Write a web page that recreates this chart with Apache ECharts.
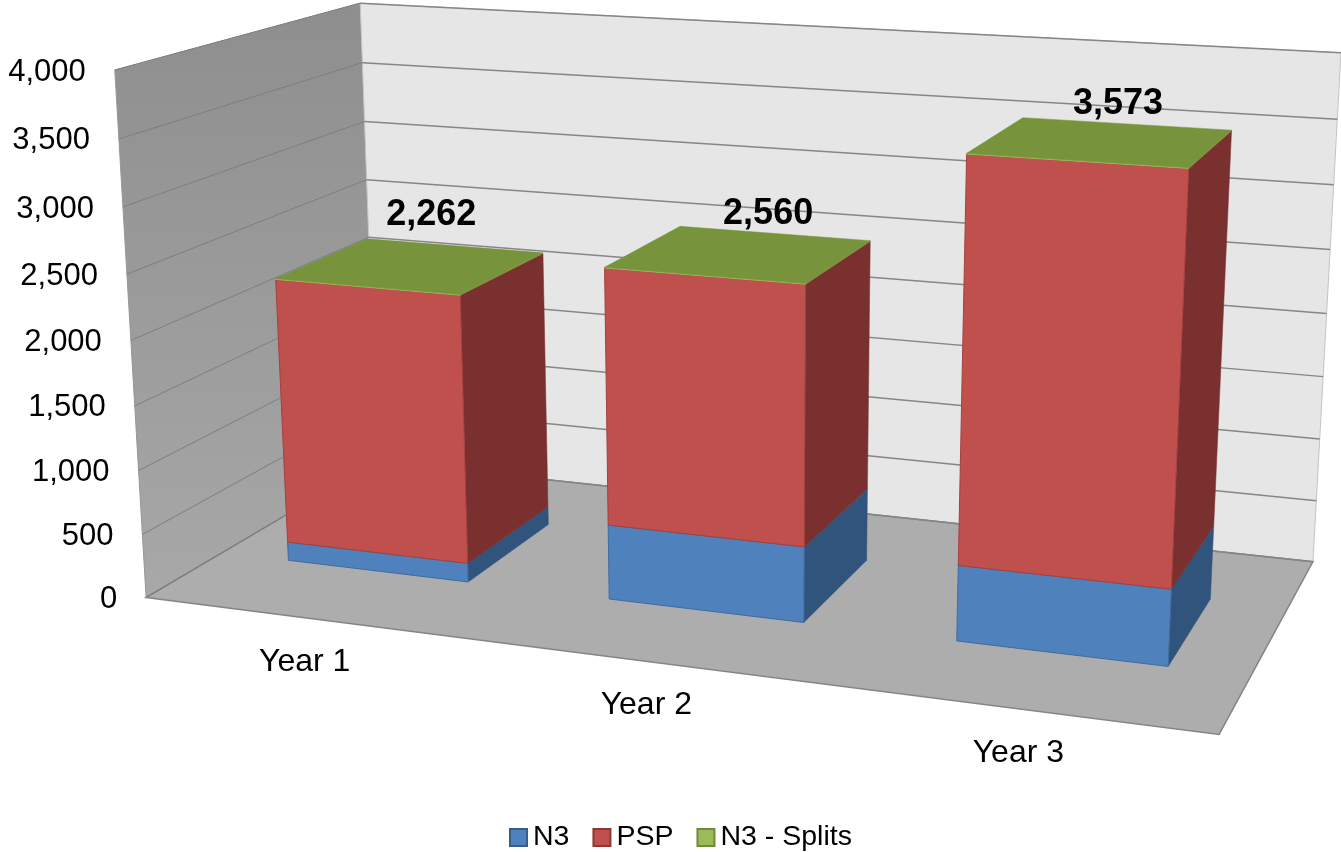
<!DOCTYPE html>
<html>
<head>
<meta charset="utf-8">
<style>
  html, body { margin: 0; padding: 0; background: #fff; }
  #chart { width: 1341px; height: 852px; }
</style>
<script src="https://cdn.jsdelivr.net/npm/echarts@6/dist/echarts.min.js"></script>
</head>
<body>
<div id="chart"></div>
<script>
var categories = ['Year 1', 'Year 2', 'Year 3'];
var n3 = [150, 585, 576];
var psp = [2107, 1970, 2992];
var splits = [5, 5, 5];
var totals = [2262, 2560, 3573];
var yTicks = [0, 500, 1000, 1500, 2000, 2500, 3000, 3500, 4000];

var FONT = '"Liberation Sans", Arial, sans-serif';
var W = 1341, H = 852;
var BAR_FRAC = 0.57, Z_FRONT = 0.3, Z_BACK = 0.7;
var labelNudge = [[-23, -31], [-6, -19], [-8, -20]];

// where the corners of the 3d box land on the page: [x, value share, depth] -> [px, py]
var anchors = [
    [[0, 0, 0], [146, 597]],
    [[0, 1, 0], [115, 70]],
    [[0, 0, 1], [377, 462]],
    [[0, 1, 1], [360, 3]],
    [[1, 0, 1], [1313, 561]],
    [[1, 1, 1], [1341, 53]],
    [[1, 0, 0], [1219, 735]]
];

// least squares camera matrix from the anchors
function solveCamera(pts) {
    var n = 11, ata = [], i, j, k;
    for (i = 0; i < n; i++) {
        ata.push(new Array(n + 1).fill(0));
    }
    function addRow(r, b) {
        for (var a = 0; a < n; a++) {
            for (var c = 0; c < n; c++) ata[a][c] += r[a] * r[c];
            ata[a][n] += r[a] * b;
        }
    }
    pts.forEach(function (p) {
        var X = p[0][0], Y = p[0][1], Z = p[0][2], u = p[1][0], v = p[1][1];
        addRow([X, Y, Z, 1, 0, 0, 0, 0, -u * X, -u * Y, -u * Z], u);
        addRow([0, 0, 0, 0, X, Y, Z, 1, -v * X, -v * Y, -v * Z], v);
    });
    for (i = 0; i < n; i++) {
        var best = i;
        for (j = i + 1; j < n; j++) {
            if (Math.abs(ata[j][i]) > Math.abs(ata[best][i])) best = j;
        }
        var tmp = ata[i]; ata[i] = ata[best]; ata[best] = tmp;
        for (j = 0; j < n; j++) {
            if (j === i) continue;
            var f = ata[j][i] / ata[i][i];
            for (k = i; k <= n; k++) ata[j][k] -= f * ata[i][k];
        }
    }
    var m = [];
    for (i = 0; i < n; i++) m.push(ata[i][n] / ata[i][i]);
    return m;
}

var cam = solveCamera(anchors);

function project(u, s, z) {
    var d = cam[8] * u + cam[9] * s + cam[10] * z + 1;
    return [
        (cam[0] * u + cam[1] * s + cam[2] * z + cam[3]) / d,
        (cam[4] * u + cam[5] * s + cam[6] * z + cam[7]) / d
    ];
}

// the flat hidden grid fills the page, so axis pixels divided by page size are box coordinates
function boxX(api, cat) { return api.coord([cat, 0])[0] / W; }
function boxS(api, val) { return 1 - api.coord([0, val])[1] / H; }

function poly(points, fill, stroke, lineWidth) {
    return {
        type: 'polygon',
        shape: { points: points },
        style: { fill: fill, stroke: stroke || fill, lineWidth: lineWidth || 1 }
    };
}

function renderRoom() {
    return {
        type: 'group',
        children: [
            poly([project(0, 0, 0), project(0, 1, 0), project(0, 1, 1), project(0, 0, 1)],
                new echarts.graphic.LinearGradient(0, 0, 0, 1, [
                    { offset: 0, color: '#8e8e8e' },
                    { offset: 1, color: '#a8a8a8' }
                ]), '#969696'),
            poly([project(0, 0, 1), project(0, 1, 1), project(1, 1, 1), project(1, 0, 1)],
                '#e6e6e6', '#c4c4c4'),
            poly([project(0, 0, 0), project(0, 0, 1), project(1, 0, 1), project(1, 0, 0)],
                '#adadad', '#858585', 1.5)
        ]
    };
}

function renderGridLine(params, api) {
    var s = boxS(api, api.value(1));
    var a = project(0, s, 0), b = project(0, s, 1), c = project(1, s, 1);
    return {
        type: 'group',
        children: [
            { type: 'line', shape: { x1: a[0], y1: a[1], x2: b[0], y2: b[1] }, style: { stroke: '#7e7e7e', lineWidth: 1 } },
            { type: 'line', shape: { x1: b[0], y1: b[1], x2: c[0], y2: c[1] }, style: { stroke: '#868686', lineWidth: 1.5 } }
        ]
    };
}

function renderTick(params, api) {
    var s = boxS(api, api.value(1));
    var p = project(0, s, 0);
    return {
        type: 'text',
        style: {
            x: p[0] - 29, y: p[1] + 2,
            text: echarts.format.addCommas(api.value(1)),
            align: 'right', verticalAlign: 'middle',
            font: '31px ' + FONT, fill: '#000'
        }
    };
}

function renderCategory(params, api) {
    var p = project(boxX(api, api.value(0)), 0, 0);
    return {
        type: 'text',
        style: {
            x: p[0] - 2, y: p[1] + 44,
            text: categories[api.value(0)],
            align: 'center', verticalAlign: 'middle',
            font: '32px ' + FONT, fill: '#000'
        }
    };
}

function makeBarRender(front, side, edge, top) {
    return function (params, api) {
        var cat = api.value(0);
        var half = api.size([1, 0])[0] / W * BAR_FRAC / 2;
        var c = boxX(api, cat), u0 = c - half, u1 = c + half;
        var s0 = boxS(api, api.value(1)), s1 = boxS(api, api.value(2));
        var kids = [
            poly([project(u1, s0, Z_FRONT), project(u1, s1, Z_FRONT), project(u1, s1, Z_BACK), project(u1, s0, Z_BACK)], side, side, 0.5),
            poly([project(u0, s0, Z_FRONT), project(u0, s1, Z_FRONT), project(u1, s1, Z_FRONT), project(u1, s0, Z_FRONT)], front, edge, 1)
        ];
        if (top) {
            kids.push(poly([project(u0, s1, Z_FRONT), project(u0, s1, Z_BACK), project(u1, s1, Z_BACK), project(u1, s1, Z_FRONT)], top, top, 0.5));
        }
        return { type: 'group', children: kids };
    };
}

function renderTotal(params, api) {
    var cat = api.value(0);
    var p = project(boxX(api, cat), boxS(api, api.value(1)), Z_BACK);
    return {
        type: 'text',
        z2: 10,
        style: {
            x: p[0] + labelNudge[cat][0], y: p[1] + labelNudge[cat][1],
            text: echarts.format.addCommas(api.value(1)),
            align: 'center', verticalAlign: 'middle',
            font: 'bold 36px ' + FONT, fill: '#000'
        }
    };
}

function stackRows(lower, values) {
    return values.map(function (v, i) {
        var start = 0;
        lower.forEach(function (l) { start += l[i]; });
        return [i, start, start + v];
    });
}

function helper(data, fn) {
    return { type: 'custom', coordinateSystem: 'cartesian2d', silent: true, clip: false, data: data, renderItem: fn };
}

function barSeries(name, rows, colour, border, side, edge, top) {
    var s = helper(rows, makeBarRender(colour, side, edge, top));
    s.name = name;
    s.encode = { x: 0, y: 2 };
    s.itemStyle = { color: colour, borderColor: border, borderWidth: 2 };
    return s;
}

var tickRows = yTicks.map(function (v) { return [0, v]; });

var option = {
    animation: false,
    grid: { left: 0, right: 0, top: 0, bottom: 0 },
    xAxis: { type: 'category', data: categories, show: false },
    yAxis: { type: 'value', min: 0, max: 4000, interval: 500, show: false },
    legend: {
        data: ['N3', 'PSP', 'N3 - Splits'],
        left: 509, top: 823,
        itemWidth: 17, itemHeight: 17, itemGap: 23, padding: 0,
        icon: 'rect',
        textStyle: { fontFamily: FONT, fontSize: 28.5, color: '#000', padding: [0, 0, 0, 1] }
    },
    series: [
        helper([[0, 0]], renderRoom),
        helper(tickRows, renderGridLine),
        helper(tickRows, renderTick),
        helper(categories.map(function (c, i) { return [i, 0]; }), renderCategory),
        barSeries('N3', stackRows([], n3), '#4f81bd', '#385d8a', '#31547c', '#3f6b9f'),
        barSeries('PSP', stackRows([n3], psp), '#c0504d', '#8c3836', '#7a302e', '#a5403d'),
        barSeries('N3 - Splits', stackRows([n3, psp], splits), '#9bbb59', '#71893f', '#77933c', '#9bbb59', '#77933c'),
        helper(totals.map(function (v, i) { return [i, v]; }), renderTotal)
    ]
};

echarts.init(document.getElementById('chart')).setOption(option);
</script>
</body>
</html>
